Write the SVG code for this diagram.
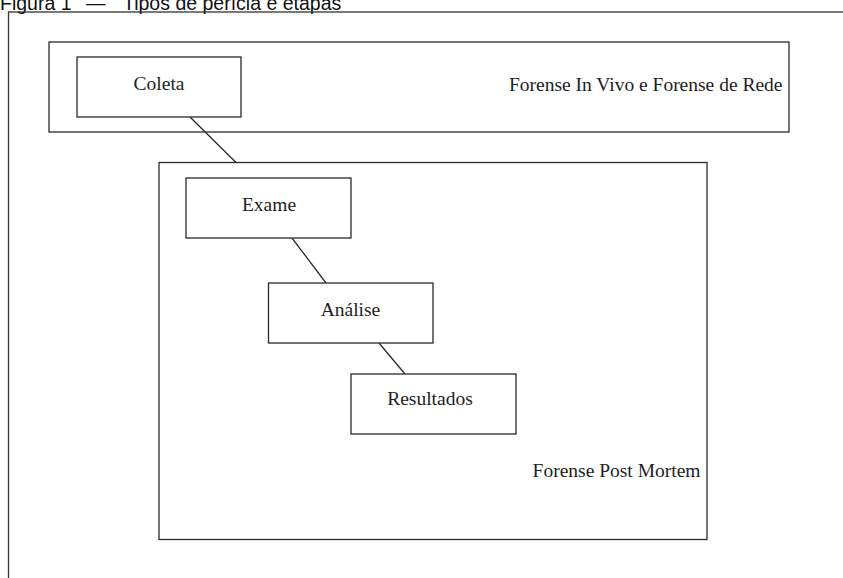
<svg xmlns="http://www.w3.org/2000/svg" width="843" height="578" viewBox="0 0 843 578">
<style>
.box{fill:#fff;stroke:#2a2a2a;stroke-width:1.3}
.frame{fill:none;stroke:#333;stroke-width:1.3}
.lbl{font-family:"Liberation Serif","Times New Roman",serif;font-size:19.5px;fill:#1e1e1e}
.title{font-family:"Liberation Sans",Arial,sans-serif;font-size:19.5px;fill:#111}
.conn{stroke:#2a2a2a;stroke-width:1.3;fill:none}
</style>
<rect width="843" height="578" fill="#fff"/>
<text class="title" y="10"><tspan x="0">Figura 1</tspan><tspan x="86">—</tspan><tspan x="123">Tipos de perícia e etapas</tspan></text>
<rect class="frame" x="8.5" y="12" width="900" height="700"/>
<g id="forense-in-vivo">
<rect class="box" x="49" y="42" width="740" height="90"/>
<text class="lbl" x="782.5" y="91" text-anchor="end">Forense In Vivo e Forense de Rede</text>
</g>
<g id="forense-post-mortem">
<rect class="box" x="159" y="162.5" width="548" height="377"/>
<text class="lbl" x="700.5" y="477" text-anchor="end">Forense Post Mortem</text>
</g>
<g id="connectors">
<line class="conn" x1="190" y1="117" x2="236" y2="162.5"/>
<line class="conn" x1="292" y1="238" x2="326" y2="283"/>
<line class="conn" x1="379" y1="343" x2="405" y2="374"/>
</g>
<g id="coleta">
<rect class="box" x="77" y="57" width="164" height="60"/>
<text class="lbl" x="159" y="90" text-anchor="middle">Coleta</text>
</g>
<g id="exame">
<rect class="box" x="186" y="178" width="165" height="60"/>
<text class="lbl" x="269" y="211" text-anchor="middle">Exame</text>
</g>
<g id="analise">
<rect class="box" x="268.5" y="283" width="164.5" height="60"/>
<text class="lbl" x="350.5" y="316" text-anchor="middle">Análise</text>
</g>
<g id="resultados">
<rect class="box" x="351" y="374" width="165" height="60"/>
<text class="lbl" x="430" y="405" text-anchor="middle">Resultados</text>
</g>
</svg>
